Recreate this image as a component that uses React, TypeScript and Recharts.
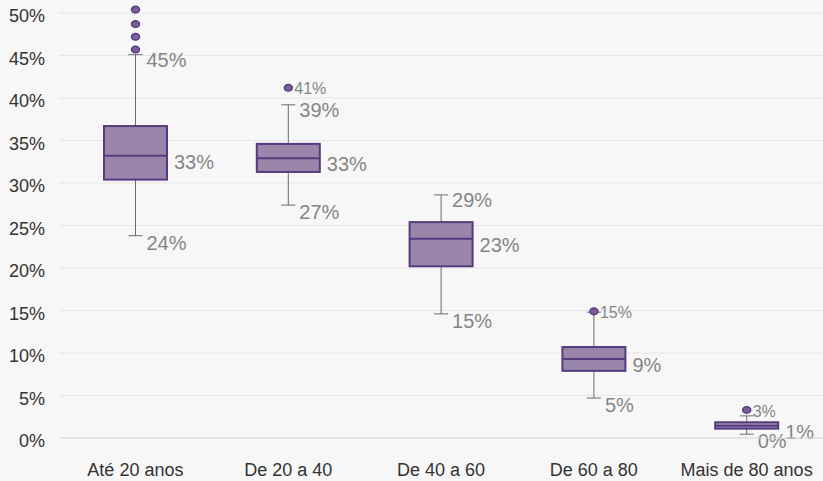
import { ComposedChart, Bar, XAxis, YAxis, CartesianGrid } from 'recharts';

const categories = ['Até 20 anos', 'De 20 a 40', 'De 40 a 60', 'De 60 a 80', 'Mais de 80 anos'];
const whiskerLow = [23.8, 27.4, 14.6, 4.7, 0.45];
const q1 = [30.4, 31.3, 20.2, 7.9, 1.1];
const median = [33.2, 32.9, 23.45, 9.3, 1.45];
const q3 = [36.7, 34.6, 25.4, 10.7, 1.85];
const whiskerHigh = [45.1, 39.2, 28.6, 14.8, 2.6];
const outliers = [[50.4, 48.7, 47.2, 45.7], [41.2], [], [14.9], [3.3]];
const yTicks = [0, 5, 10, 15, 20, 25, 30, 35, 40, 45, 50];

const data = categories.map((name, i) => ({
  name,
  low: whiskerLow[i],
  q1: q1[i],
  median: median[i],
  q3: q3[i],
  high: whiskerHigh[i],
  outliers: outliers[i],
}));

const BOX_FILL = '#9a86ab';
const BOX_STROKE = '#563b7f';
const WHISKER = '#6b6b6b';
const LABEL = '#858585';
const pct = (v: number) => `${Math.round(v)}%`;

const BoxShape = (props: any) => {
  const { x, y, width, height, payload } = props;
  const top = Math.min(y, y + height);
  const h = Math.abs(height);
  const { low, high } = payload;
  // map a value to pixels using the bar's own [low, high] extent
  const py = (v: number) => top + ((high - v) * h) / (high - low);
  const cx = x + width / 2;
  const cap = 7;
  const boxTop = py(payload.q3);
  const boxBottom = py(payload.q1);
  const single = payload.outliers.length === 1;
  const showHigh = !(single && pct(payload.outliers[0]) === pct(high));

  return (
    <g>
      <line x1={cx} x2={cx} y1={py(high)} y2={py(low)} stroke={WHISKER} strokeWidth={1} />
      <line x1={cx - cap} x2={cx + cap} y1={py(high)} y2={py(high)} stroke={WHISKER} strokeWidth={1} />
      <line x1={cx - cap} x2={cx + cap} y1={py(low)} y2={py(low)} stroke={WHISKER} strokeWidth={1} />
      <rect
        x={x}
        y={boxTop}
        width={width}
        height={boxBottom - boxTop}
        fill={BOX_FILL}
        stroke={BOX_STROKE}
        strokeWidth={2}
      />
      <line x1={x} x2={x + width} y1={py(payload.median)} y2={py(payload.median)} stroke={BOX_STROKE} strokeWidth={2} />
      {payload.outliers.map((o: number, k: number) => (
        <ellipse key={k} cx={cx} cy={py(o)} rx={4} ry={3.3} fill="#7b5f9c" stroke={BOX_STROKE} strokeWidth={1.5} />
      ))}
      {single && (
        <text x={cx + 6} y={py(payload.outliers[0]) + 1} dy="0.35em" fontSize={16} fill={LABEL}>
          {pct(payload.outliers[0])}
        </text>
      )}
      {showHigh && (
        <text x={cx + 11} y={py(high) + 5} dy="0.35em" fontSize={20} fill={LABEL}>
          {pct(high)}
        </text>
      )}
      <text x={x + width + 7} y={py(payload.median) + 6} dy="0.35em" fontSize={20} fill={LABEL}>
        {pct(payload.median)}
      </text>
      <text x={cx + 11} y={py(low) + 7} dy="0.35em" fontSize={20} fill={LABEL}>
        {pct(low)}
      </text>
    </g>
  );
};

const YTick = (props: any) => {
  const { x, y, payload } = props;
  return (
    <text x={x} y={y + 3} dy="0.35em" textAnchor="end" fontSize={18} fill="#333">
      {payload.value}%
    </text>
  );
};

export default function App() {
  return (
    <div style={{ position: 'absolute', left: 0, top: 0, width: 823, height: 481, background: '#f7f7f7', fontFamily: '"Liberation Sans", Arial, sans-serif' }}>
      <ComposedChart width={823} height={481} data={data} margin={{ top: 13, right: 0, bottom: 0, left: 0 }}>
        <CartesianGrid vertical={false} stroke="#e6e6e6" />
        <XAxis
          dataKey="name"
          height={43}
          tickLine={false}
          tickSize={0}
          tickMargin={25}
          axisLine={{ stroke: '#dcdcdc' }}
          tick={{ fontSize: 18, fill: '#333' }}
          interval={0}
        />
        <YAxis
          type="number"
          domain={[0, 50]}
          ticks={yTicks}
          width={59}
          tickLine={false}
          tickSize={0}
          tickMargin={14}
          axisLine={false}
          tick={<YTick />}
        />
        <Bar dataKey={(d: any) => [d.low, d.high]} barSize={63} shape={<BoxShape />} isAnimationActive={false} />
      </ComposedChart>
    </div>
  );
}
